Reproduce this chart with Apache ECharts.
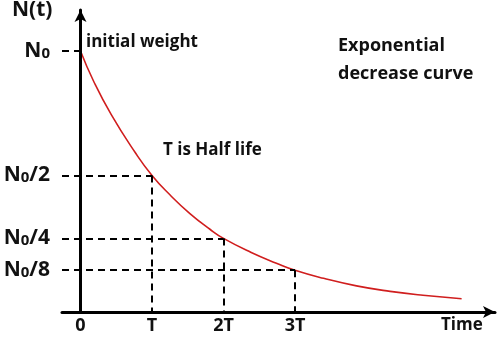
<!DOCTYPE html>
<html>
<head>
<meta charset="utf-8">
<script src="https://cdn.jsdelivr.net/npm/echarts@6/dist/echarts.min.js"></script>
<style>
  html,body{margin:0;padding:0;background:#fff;}
  #chart{width:497px;height:338px;}
</style>
</head>
<body>
<div id="chart"></div>
<script>
// curve: time in units of T, amount in % of N0
var timeT  = [0, 0.18, 0.43, 0.76, 1, 1.25, 1.53, 1.81, 2, 2.38, 2.74, 3, 3.4, 3.86, 4.33, 4.79, 5.33];
var amount = [100, 88.6, 75.6, 61.3, 52.3, 44.9, 37.7, 31.7, 28.2, 22.9, 18.7, 16.0, 12.9, 10.0, 7.9, 6.4, 5.1];

// half-life markers
var keyT = [0, 1, 2, 3];
var keyN = [100, 52.3, 28.2, 16.0];
var xTickLabels = ['0', 'T', '2T', '3T'];
var yTickLabels = ['{n|N}{s|0}', '{n|N}{s|0}{n|/2}', '{n|N}{s|0}{n|/4}', '{n|N}{s|0}{n|/8}'];

var xMin = -0.259, xMax = 5.797, yMax = 115.7;
var FONT = 'Open Sans';

var chart = echarts.init(document.getElementById('chart'));

var lines = [];
for (var i = 0; i < keyT.length; i++) {
    lines.push([{coord: [xMin, keyN[i]]}, {coord: [keyT[i], keyN[i]]}]);
    lines.push([{coord: [keyT[i], keyN[i]]}, {coord: [keyT[i], 0]}]);
}

var curve = [];
for (var j = 0; j < timeT.length; j++) curve.push([timeT[j], amount[j]]);

var option = {
    animation: false,
    grid: {left: 62, right: 2, top: 10, bottom: 26},
    xAxis: {
        type: 'value', min: xMin, max: xMax,
        axisLine: {lineStyle: {color: '#000', width: 3}, symbol: ['none', 'arrow'], symbolSize: [9, 12]},
        axisTick: {show: false},
        splitLine: {show: false},
        axisLabel: {
            customValues: keyT, margin: 5,
            fontFamily: FONT, fontWeight: 'bold', fontSize: 18, color: '#111',
            formatter: function(v){ return xTickLabels[keyT.indexOf(v)]; }
        }
    },
    yAxis: {
        type: 'value', min: 0, max: yMax,
        axisLine: {lineStyle: {color: '#000', width: 3}, symbol: ['none', 'arrow'], symbolSize: [9, 12]},
        axisTick: {show: false},
        splitLine: {show: false},
        axisLabel: {
            customValues: keyN, margin: 12,
            formatter: function(v){ return yTickLabels[keyN.indexOf(v)]; },
            rich: {
                n: {fontFamily: FONT, fontWeight: 'bold', fontSize: 21, color: '#111'},
                s: {fontFamily: FONT, fontWeight: 'bold', fontSize: 15, color: '#111', padding: [5, 0, 0, 0]}
            }
        }
    },
    series: [{
        type: 'line',
        data: curve,
        smooth: 0.5,
        showSymbol: false,
        lineStyle: {color: '#d01e1e', width: 1.6},
        markLine: {
            silent: true,
            symbol: ['none', 'none'],
            label: {show: false},
            lineStyle: {color: '#000', type: [7, 5], width: 2},
            data: lines
        },
        z: 3
    }],
    graphic: [
        {type: 'text', left: 12, top: 0, style: {text: 'N(t)', font: 'bold 21px ' + FONT, fill: '#111'}},
        {type: 'text', left: 86, top: 34, style: {text: 'initial weight', font: 'bold 17px ' + FONT, fill: '#111'}},
        {type: 'text', left: 338, top: 32, style: {text: 'Exponential\ndecrease curve', font: 'bold 18px ' + FONT, lineHeight: 28, fill: '#111'}},
        {type: 'text', left: 163, top: 142, style: {text: 'T is Half life', font: 'bold 17px ' + FONT, fill: '#111'}},
        {type: 'text', left: 441, top: 317, style: {text: 'Time', font: 'bold 17px ' + FONT, fill: '#111'}}
    ]
};
chart.setOption(option);
</script>
</body>
</html>
